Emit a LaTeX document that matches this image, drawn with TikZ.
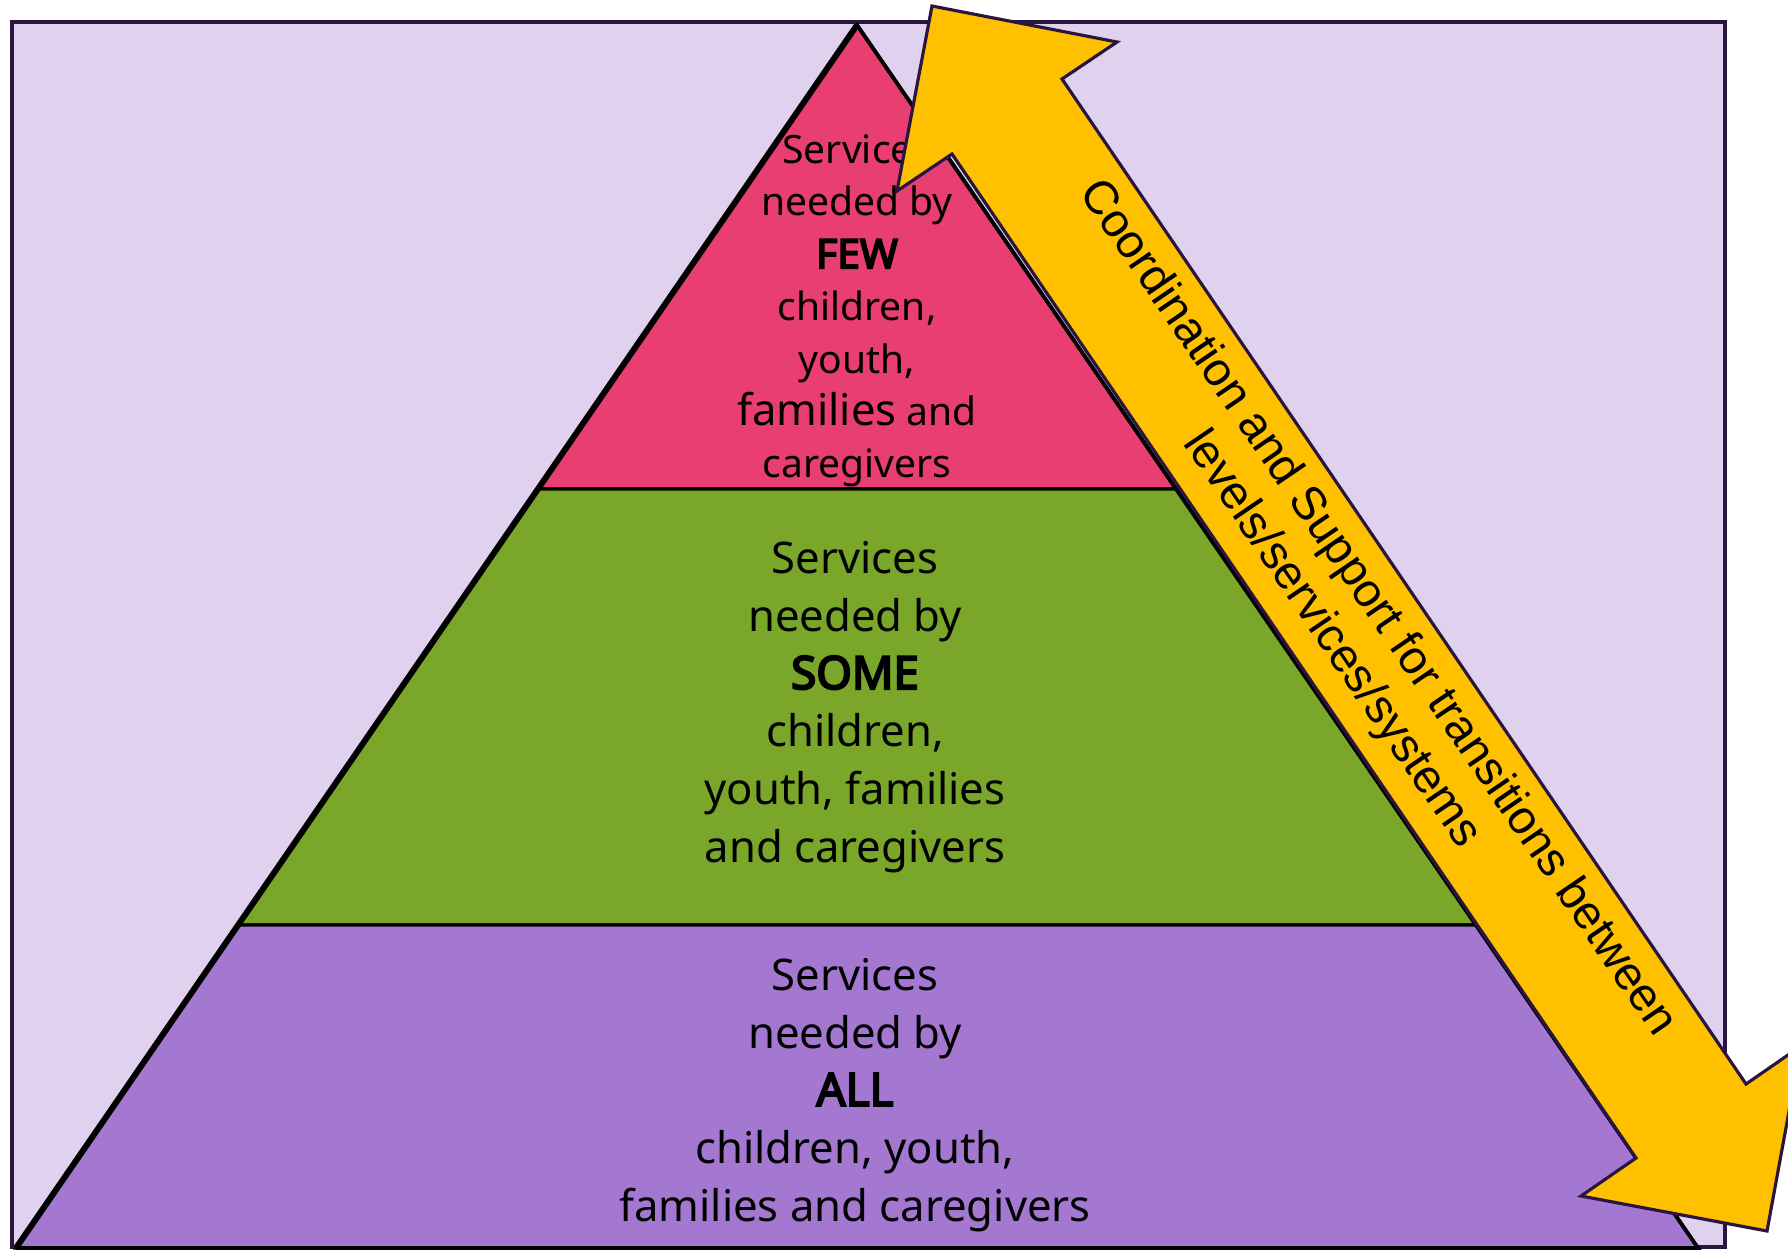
\documentclass[tikz,border=0pt]{standalone}
\usepackage{fontspec}
\setmainfont{Noto Sans}[BoldFont={Noto Sans}, BoldFeatures={FakeBold=4.5}]
\newfontfamily\arrowfont{Liberation Sans}
\usepackage{tikz}
\definecolor{bg_lavender}{RGB}{224,210,238}
\definecolor{edge_dark}{RGB}{42,21,65}
\definecolor{tier_pink}{RGB}{232,62,113}
\definecolor{tier_green}{RGB}{122,167,41}
\definecolor{tier_purple}{RGB}{164,120,208}
\definecolor{arrow_yellow}{RGB}{255,192,0}

\begin{document}
\begin{tikzpicture}[x=0.01cm,y=-0.01cm,line join=miter]
    \tikzstyle{tier}=[draw=black, line width=0.9pt]
    \tikzstyle{tiertext}=[align=center, text=black, font=\fontsize{12.4}{16.4}\selectfont]
    \tikzstyle{arrowtext}=[align=center, text=black, font=\arrowfont\fontsize{13.4}{15.8}\selectfont]

    \clip (0,0) rectangle (1788,1251);
    \fill[white] (0,0) rectangle (1788,1251);
    \draw[fill=bg_lavender, draw=edge_dark, line width=1pt] (12,22) rectangle (1725,1247);

    % pyramid corners
    \coordinate (apex) at (857,25);
    \coordinate (l1) at (538,489);
    \coordinate (r1) at (1176,489);
    \coordinate (l2) at (238,925);
    \coordinate (r2) at (1476,925);
    \coordinate (bl) at (16,1248);
    \coordinate (br) at (1698,1248);

    \filldraw[tier, fill=tier_pink]   (apex) -- (r1) -- (l1) -- cycle;
    \filldraw[tier, fill=tier_green]  (l1) -- (r1) -- (r2) -- (l2) -- cycle;
    \filldraw[tier, fill=tier_purple] (l2) -- (r2) -- (br) -- (bl) -- cycle;
    \draw[line width=1.7pt] (bl) -- (apex);
    \draw[line width=1.1pt] (apex) -- (br) -- (bl);

    \node[tiertext, font=\fontsize{11.1}{14.9}\selectfont] (few) at (857,311)
        {Services\\needed by\\{\fontsize{11.6}{14.9}\selectfont\textbf{FEW}}\\children,\\youth,\\{\fontsize{12.4}{14.9}\selectfont families} and\\caregivers};
    \node[tiertext] (some) at (855,707)
        {Services\\needed by\\{\fontsize{13}{16.4}\selectfont\textbf{SOME}}\\children,\\youth, families\\and caregivers};
    \node[tiertext] (all) at (855,1095)
        {Services\\needed by\\{\fontsize{13}{16.4}\selectfont\textbf{ALL}}\\children, youth,\\families and caregivers};

    % double arrow
    \filldraw[fill=arrow_yellow, draw=edge_dark, line width=0.9pt]
        (932,6) -- (1117,42) -- (1062,79) -- (1746,1084) -- (1801,1046)
        -- (1767,1231) -- (1581,1196) -- (1636,1158) -- (952,154) -- (897,191) -- cycle;
    \node[arrowtext, rotate=-55.73] (coord) at (1354,624)
        {Coordination and Support for transitions between\\levels/services/systems};
\end{tikzpicture}
\end{document}
